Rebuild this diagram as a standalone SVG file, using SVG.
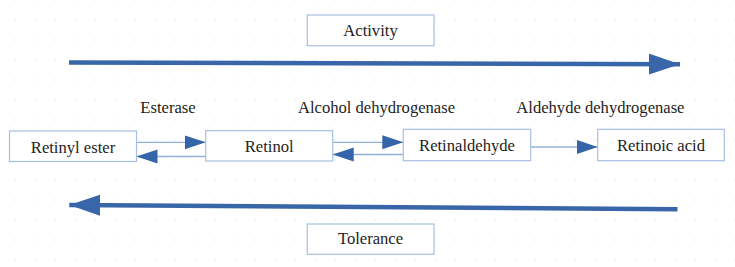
<svg xmlns="http://www.w3.org/2000/svg" width="735" height="267" viewBox="0 0 735 267">
  <style>
    .box { fill: #ffffff; stroke: #a7bfe2; stroke-width: 1.2; }
    .txt { font-family: "Liberation Serif", "Times New Roman", serif; font-size: 16.6px; fill: #1e1e1e; text-anchor: middle; }
    .thin { stroke: #93b0dc; stroke-width: 1.3; fill: none; }
    .thick { stroke: #3966a8; stroke-width: 4.5; fill: none; }
  </style>
  <defs>
    <pattern id="grid" x="5" y="10" width="20" height="20" patternUnits="userSpaceOnUse">
      <circle cx="10" cy="10" r="0.7" fill="#e2e2e2"/>
    </pattern>
    <marker id="sh" markerUnits="userSpaceOnUse" markerWidth="22" markerHeight="15" refX="21" refY="7" orient="auto">
      <path d="M0,0 L21,7 L0,14 Z" fill="#3465a8"/>
    </marker>
    <marker id="bh" markerUnits="userSpaceOnUse" markerWidth="32" markerHeight="22" refX="31" refY="10.5" orient="auto">
      <path d="M0,0 L31,10.5 L0,21 Z" fill="#3966a8"/>
    </marker>
  </defs>
  <rect width="735" height="267" fill="#ffffff"/>
  <rect width="735" height="267" fill="url(#grid)"/>

  <g id="connectors">
    <line class="thick" x1="69" y1="62.5" x2="680" y2="64.2" marker-end="url(#bh)"/>
    <line class="thick" x1="677.5" y1="209.3" x2="69.3" y2="205" marker-end="url(#bh)"/>
    <line class="thin" x1="136.5" y1="142.3" x2="205.7" y2="142.3" marker-end="url(#sh)"/>
    <line class="thin" x1="205.7" y1="156.5" x2="136.5" y2="156.5" marker-end="url(#sh)"/>
    <line class="thin" x1="332.7" y1="142.3" x2="403.3" y2="142.3" marker-end="url(#sh)"/>
    <line class="thin" x1="403.3" y1="154.5" x2="332.7" y2="154.5" marker-end="url(#sh)"/>
    <line class="thin" x1="530.7" y1="147" x2="597.7" y2="147" marker-end="url(#sh)"/>
  </g>

  <g id="activity">
    <rect class="box" x="307.3" y="15" width="126.7" height="30.7"/>
    <text class="txt" x="370.5" y="35.7">Activity</text>
  </g>
  <g id="tolerance">
    <rect class="box" x="307.3" y="224" width="126.7" height="30.3"/>
    <text class="txt" x="370.5" y="244.3">Tolerance</text>
  </g>
  <g id="retinyl-ester">
    <rect class="box" x="9.5" y="131" width="127" height="30.5"/>
    <text class="txt" x="73" y="152.5">Retinyl ester</text>
  </g>
  <g id="retinol">
    <rect class="box" x="205.7" y="130.7" width="127" height="30.3"/>
    <text class="txt" x="269.2" y="152.3">Retinol</text>
  </g>
  <g id="retinaldehyde">
    <rect class="box" x="403.3" y="129.3" width="127.4" height="31.4"/>
    <text class="txt" x="467" y="150.8">Retinaldehyde</text>
  </g>
  <g id="retinoic-acid">
    <rect class="box" x="597.7" y="129.3" width="126.6" height="31.4"/>
    <text class="txt" x="661" y="150.8">Retinoic acid</text>
  </g>

  <g id="labels">
    <text class="txt" x="168" y="113.3">Esterase</text>
    <text class="txt" x="376.5" y="113.3">Alcohol dehydrogenase</text>
    <text class="txt" x="600.4" y="113.3">Aldehyde dehydrogenase</text>
  </g>
</svg>
